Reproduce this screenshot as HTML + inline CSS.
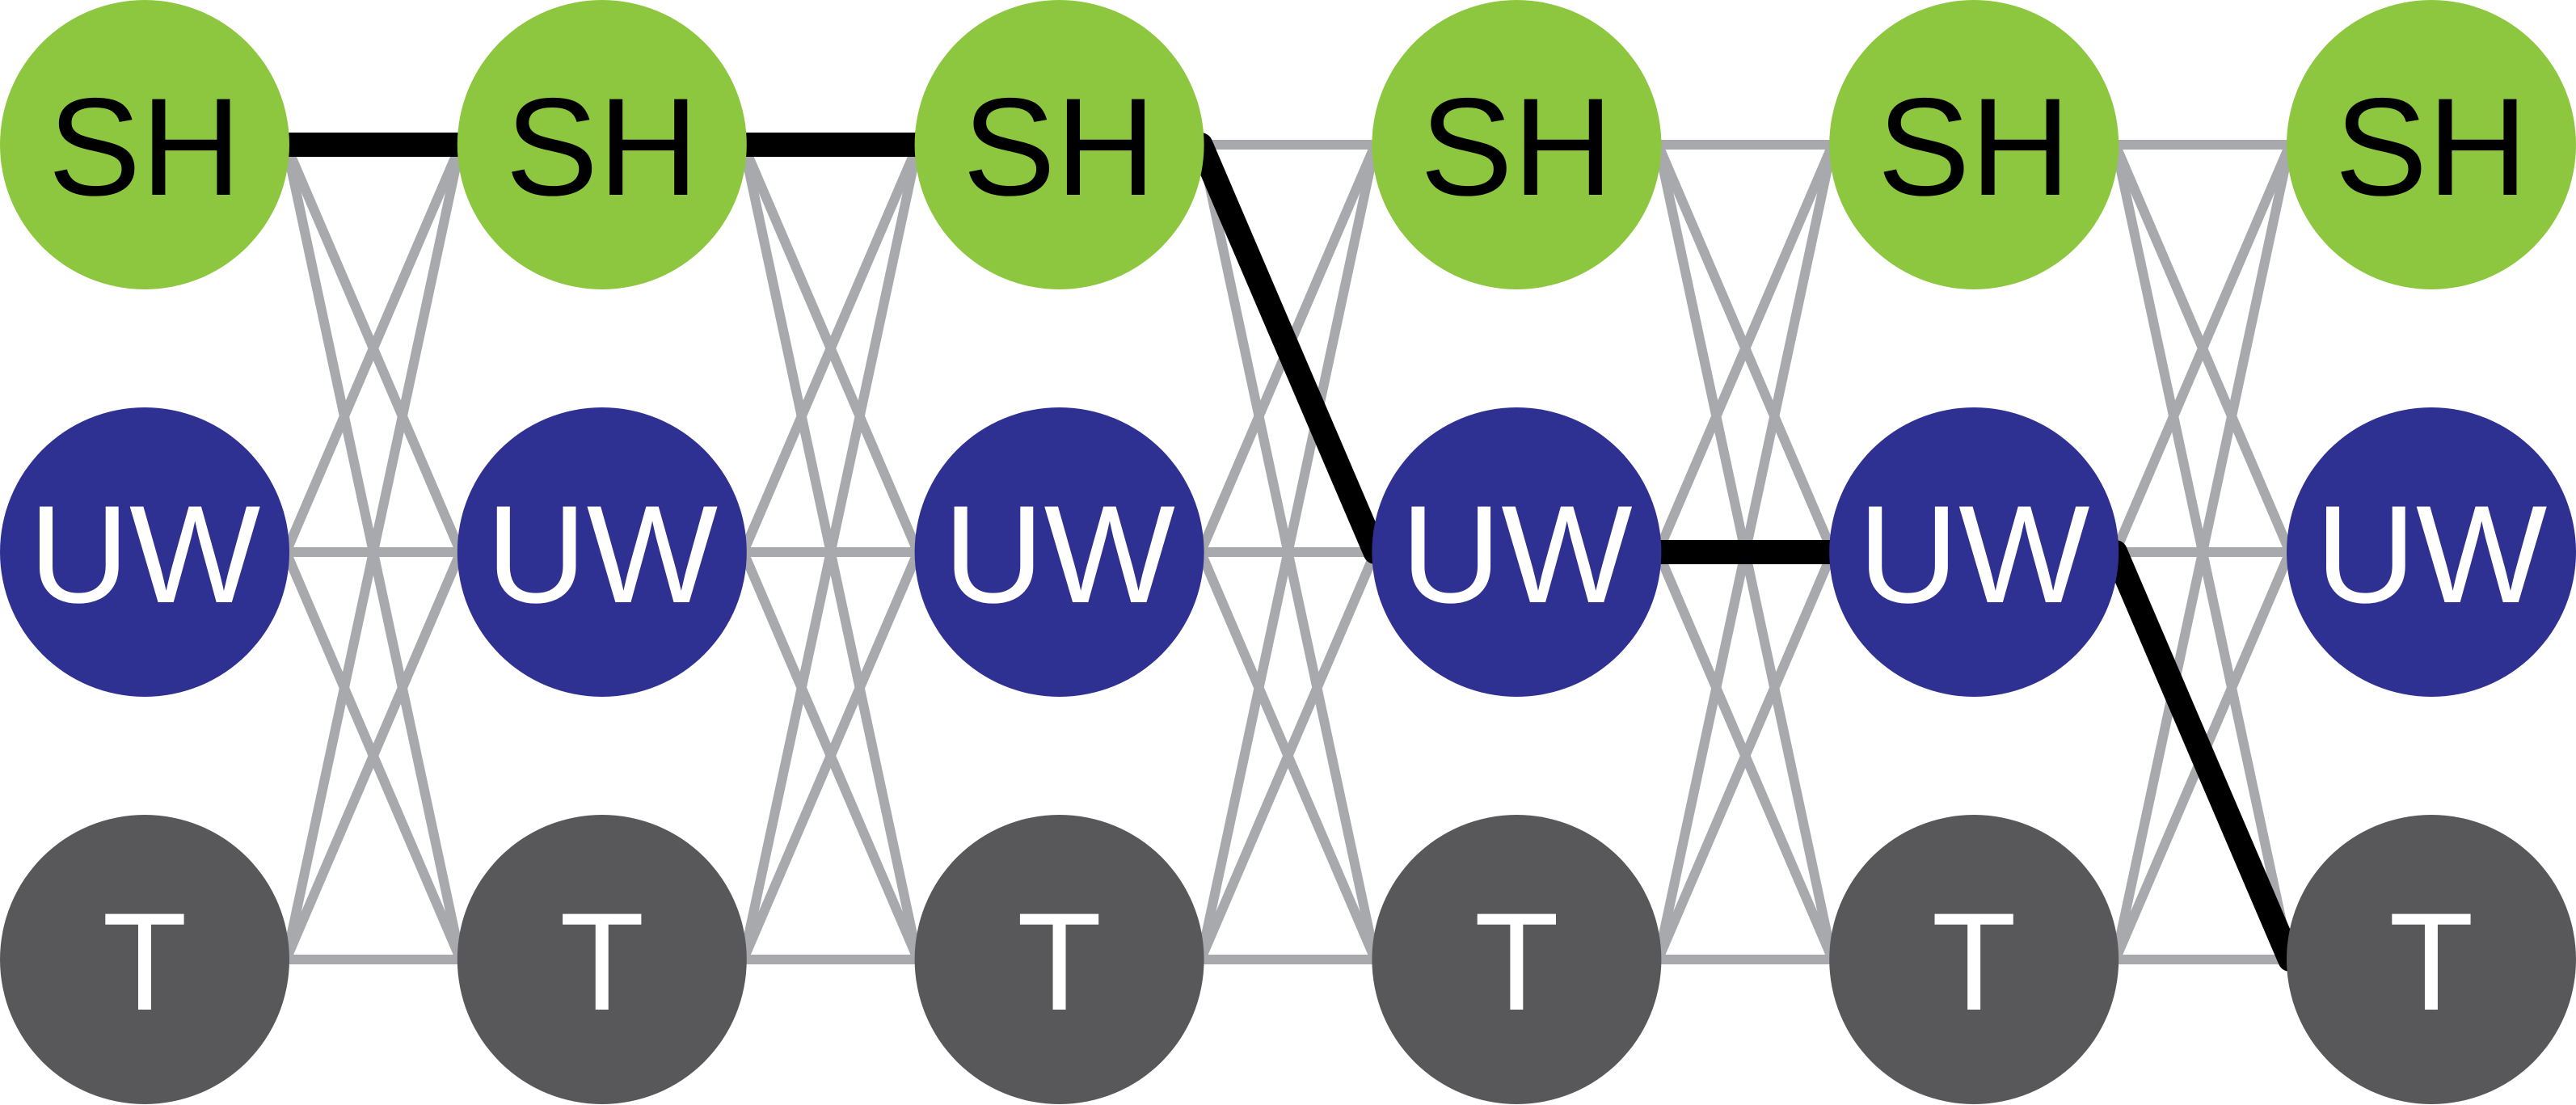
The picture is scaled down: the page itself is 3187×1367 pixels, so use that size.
<!DOCTYPE html>
<html><head><meta charset="utf-8"><style>
html,body{margin:0;padding:0;background:#fff;}
svg{display:block;}
text{font-family:"Liberation Sans",sans-serif;font-size:172px;text-anchor:middle;}
</style></head><body>
<svg id="chart" width="3187" height="1367" viewBox="0 0 3187 1367" xmlns="http://www.w3.org/2000/svg">
<g id="edges"></g>
<g id="path"></g>
<g id="nodes"></g>
</svg>
<script>
const states = ["SH","UW","T"];
const stateFill = ["#8dc63f","#2e3192","#58585a"];
const stateText = ["#000","#fff","#fff"];
const steps = [0,1,2,3,4,5];
const bestPath = [0,0,0,1,1,2];

const NS="http://www.w3.org/2000/svg";
const R=179;
const rowY=[179,683,1187];
const xOf=i=>179+i*(3008-179)/(steps.length-1);
const yOf=s=>rowY[s];
function el(tag,attrs,parent){const e=document.createElementNS(NS,tag);for(const k in attrs)e.setAttribute(k,attrs[k]);parent.appendChild(e);return e;}
const gE=document.getElementById('edges'),gP=document.getElementById('path'),gN=document.getElementById('nodes');
for(let i=0;i<steps.length-1;i++){
  for(let a=0;a<states.length;a++)for(let b=0;b<states.length;b++){
    const l=el('line',{x1:xOf(i)+R-4,y1:yOf(a),x2:xOf(i+1)-R+4,y2:yOf(b),stroke:'#a7a9ac','stroke-width':12},gE);
    
    
  }
}
for(let i=0;i<bestPath.length-1;i++){
  const l=el('line',{x1:xOf(i)+R-4,y1:yOf(bestPath[i]),x2:xOf(i+1)-R+4,y2:yOf(bestPath[i+1]),stroke:'#000','stroke-width':30,'stroke-linecap':'round'},gP);
  
  
}
steps.forEach((t,i)=>{
  states.forEach((s,k)=>{
    const c=el('circle',{cx:xOf(i),cy:yOf(k),r:R,fill:stateFill[k]},gN);
    
    
    const tx=el('text',{x:xOf(i),y:yOf(k)+62,fill:stateText[k]},gN);
    tx.textContent=s;
    
    
  });
});
</script>
</body></html>
